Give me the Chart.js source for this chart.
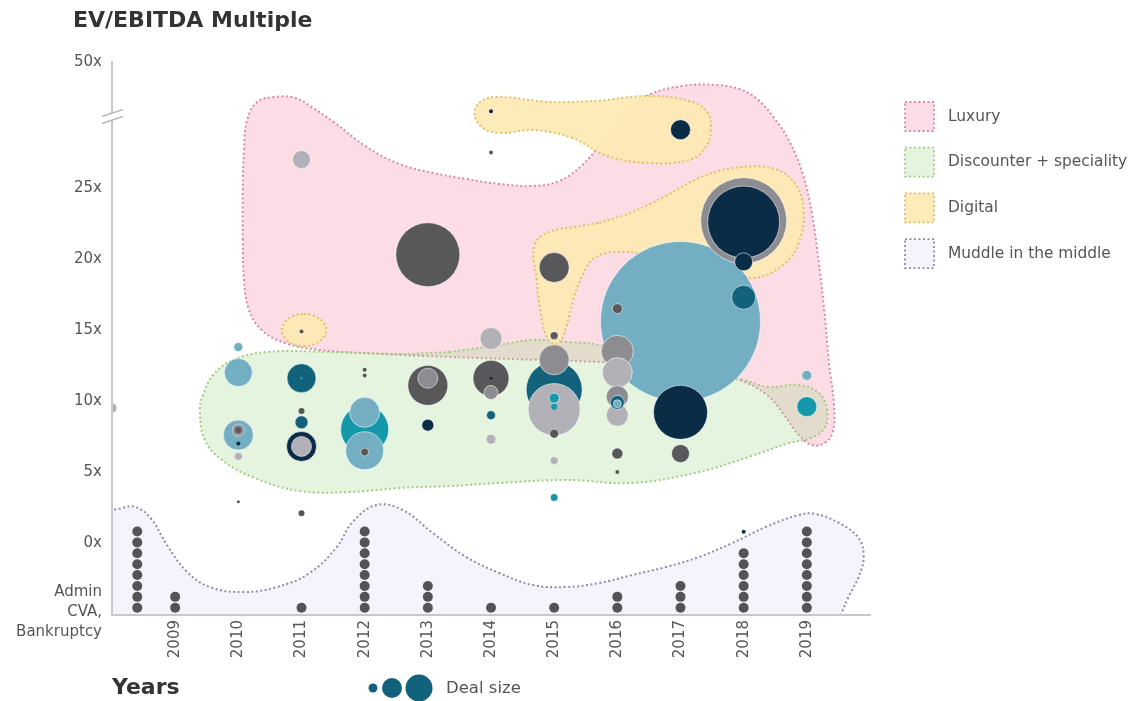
<!DOCTYPE html>
<html>
<head>
<meta charset="utf-8">
<title>EV/EBITDA Multiple</title>
<script src="https://cdn.jsdelivr.net/npm/chart.js@4.4.1/dist/chart.umd.min.js"></script>
<style>
  html, body { margin: 0; padding: 0; background: #fff; }
  #chart { display: block; }
</style>
</head>
<body>
<canvas id="chart" width="1134" height="701"></canvas>
<script>
// Deals: year, EV/EBITDA multiple, deal size (bubble radius) and colour group
const dealYears = [2008, 2010, 2010, 2010, 2010, 2010, 2010, 2010, 2010,
  2011, 2011, 2011, 2011, 2011, 2011, 2011, 2011, 2011,
  2012, 2012, 2012, 2012, 2012, 2012,
  2013, 2013, 2013, 2013,
  2014, 2014, 2014, 2014, 2014, 2014, 2014, 2014,
  2015, 2015, 2015, 2015, 2015, 2015, 2015, 2015, 2015, 2015,
  2016, 2016, 2016, 2016, 2016, 2016, 2016, 2016, 2016,
  2017, 2017, 2017, 2017,
  2018, 2018, 2018, 2018, 2018,
  2019, 2019];
const dealMultiples = [9.5, 13.8, 12.0, 7.6, 7.95, 7.95, 7.0, 6.1, 2.9,
  27.0, 14.9, 11.6, 11.6, 9.3, 8.5, 6.8, 6.8, 2.1,
  12.2, 11.8, 8.0, 9.2, 6.5, 6.4,
  20.3, 11.1, 11.6, 8.3,
  30.4, 27.5, 14.4, 11.6, 10.6, 11.6, 9.0, 7.3,
  19.4, 14.6, 12.9, 10.8, 9.4, 10.2, 9.6, 7.7, 5.8, 3.2,
  16.5, 13.5, 12.0, 10.3, 9.0, 9.9, 9.8, 6.3, 5.0,
  29.1, 15.6, 9.2, 6.3,
  22.7, 22.6, 19.8, 17.3, 0.8,
  11.8, 9.6];
const dealSizes = [5, 4.5, 14, 15, 6, 3, 2, 4, 1.5,
  9, 2, 14.5, 1.5, 3, 6.5, 15, 10, 3,
  2, 2, 24, 15, 19, 4,
  32, 20, 10, 6,
  2, 2, 11, 18, 7, 1.5, 4.5, 5,
  15, 4, 15, 28, 26, 5, 3, 4.5, 4, 3.5,
  5, 16, 15, 11, 11, 7, 4, 5.5, 2,
  10, 80, 27, 9,
  43, 36, 9, 12, 2,
  5, 10];
const dealGroups = ['light', 'blue', 'blue', 'blue', 'mid', 'dark', 'navy', 'light', 'dark',
  'light', 'dark', 'teal', 'cyan', 'dark', 'teal', 'navy', 'light', 'dark',
  'dark', 'dark', 'cyan', 'blue', 'blue', 'dark',
  'dark', 'dark', 'mid', 'navy',
  'navy', 'dark', 'light', 'dark', 'mid', 'navy', 'teal', 'light',
  'dark', 'dark', 'mid', 'teal', 'light', 'cyan', 'cyan', 'dark', 'light', 'cyan',
  'dark', 'mid', 'light', 'mid', 'light', 'teal', 'blue', 'dark', 'dark',
  'navy', 'blue', 'navy', 'dark',
  'mid', 'navy', 'navy', 'teal', 'navy',
  'blue', 'cyan'];

// Administrations, CVAs and bankruptcies per year (first column is pre-2009)
const adminYears = [2008.4, 2009, 2010, 2011, 2012, 2013, 2014, 2015, 2016, 2017, 2018, 2019];
const adminCounts = [8, 2, 0, 1, 8, 3, 1, 1, 2, 3, 6, 8];

// Axis ticks
const yearTicks = [2009, 2010, 2011, 2012, 2013, 2014, 2015, 2016, 2017, 2018, 2019];
const multipleTicks = [-4.86, 0, 5, 10, 15, 20, 25, 33.87];
const multipleLabels = [['Admin', 'CVA,', 'Bankruptcy'], '0x', '5x', '10x', '15x', '20x', '25x', '50x'];

// Segment outlines (year, multiple)
const luxuryX = [2010.07, 2010.07, 2010.09, 2010.14, 2010.30, 2010.58, 2010.90, 2011.16, 2011.53, 2012.03,
  2012.55, 2013.08, 2013.61, 2014.13, 2014.66, 2015.08, 2015.43, 2015.79, 2016.16, 2016.50,
  2017.03, 2017.56, 2017.93, 2018.21, 2018.48, 2018.73, 2018.94, 2019.08, 2019.19, 2019.28,
  2019.35, 2019.43, 2019.41, 2019.28, 2019.08, 2018.87, 2018.64, 2018.37, 2017.93, 2017.29,
  2016.50, 2015.71, 2014.77, 2013.34, 2012.24, 2011.29, 2010.74, 2010.37, 2010.17, 2010.09];
const luxuryY = [21.34, 24.86, 27.68, 29.79, 31.06, 31.41, 31.34, 30.70, 29.58, 27.89,
  26.69, 26.06, 25.63, 25.28, 25.14, 25.49, 26.55, 28.38, 30.35, 31.55,
  32.18, 32.25, 31.97, 31.27, 29.93, 28.24, 25.92, 23.24, 19.72, 16.20,
  12.68, 9.72, 7.82, 7.04, 6.90, 7.61, 9.01, 10.42, 11.48, 12.18,
  12.61, 12.75, 12.89, 13.10, 13.31, 13.59, 14.08, 15.00, 16.41, 18.52];

const discounterX = [2013.34, 2014.13, 2014.66, 2015.24, 2015.71, 2016.50, 2017.29, 2018.00, 2018.40, 2018.87,
  2019.19, 2019.32, 2019.28, 2019.06, 2018.72, 2018.08, 2017.29, 2016.24, 2015.19, 2014.13,
  2013.34, 2012.55, 2011.76, 2010.97, 2010.26, 2009.74, 2009.47, 2009.39, 2009.44, 2009.60,
  2009.92, 2010.45, 2011.50, 2012.55];
const discounterY = [13.45, 13.94, 14.30, 14.15, 13.94, 12.89, 12.18, 11.48, 10.99, 11.13,
  10.56, 9.37, 8.10, 7.39, 7.04, 6.06, 5.00, 4.23, 4.44, 4.23,
  4.01, 3.87, 3.59, 3.66, 4.58, 5.85, 7.25, 9.37, 10.42, 11.83,
  12.89, 13.45, 13.45, 13.31];

const digitalTopX = [2015.71, 2016.50, 2017.14, 2017.42, 2017.48, 2017.39, 2017.14, 2016.50, 2015.84, 2015.29,
  2014.66, 2014.13, 2013.85, 2013.74, 2013.85, 2014.13, 2014.92];
const digitalTopY = [31.13, 31.48, 31.13, 30.35, 29.08, 27.82, 26.97, 26.76, 27.25, 28.52,
  29.08, 28.87, 29.30, 30.28, 31.13, 31.41, 31.06];

const digitalSmallX = [2011.04, 2011.13, 2011.21, 2011.34, 2011.39, 2011.34, 2011.21, 2011.04, 2010.86, 2010.74,
  2010.69, 2010.74, 2010.86, 2010.95];
const digitalSmallY = [16.13, 16.09, 15.98, 15.56, 15.00, 14.44, 14.02, 13.87, 14.02, 14.44,
  15.00, 15.56, 15.98, 16.09];

const digitalMainX = [2015.71, 2016.24, 2016.77, 2017.29, 2017.85, 2018.48, 2018.83, 2018.95, 2018.87, 2018.64,
  2018.16, 2017.69, 2017.14, 2016.50, 2015.95, 2015.64, 2015.45, 2015.30, 2015.19, 2015.05,
  2014.89, 2014.78, 2014.72, 2014.69, 2014.92, 2015.32];
const digitalMainY = [22.54, 23.31, 24.44, 25.70, 26.41, 26.34, 25.21, 23.24, 21.13, 19.65,
  18.66, 19.23, 20.07, 20.35, 20.49, 20.07, 18.87, 17.11, 15.21, 14.01,
  14.44, 16.41, 18.66, 20.99, 21.90, 22.25];

const muddleX = [2014.0, 2008.5, 2007.6, 2007.6, 2008.16, 2008.37, 2008.61, 2008.87, 2009.19, 2009.55,
  2010.07, 2010.61, 2011.13, 2011.56, 2011.81, 2012.19, 2012.60, 2013.08, 2013.61, 2014.13,
  2014.66, 2015.19, 2015.71, 2016.24, 2016.77, 2017.29, 2017.82, 2018.35, 2018.87, 2019.14,
  2019.51, 2019.82, 2019.90, 2019.82, 2019.66, 2019.55, 2019.47, 2019.0];
const muddleY = [-6.3, -6.3, -6.0, 1.6, 2.46, 2.54, 1.76, -0.14, -2.04, -3.10,
  -3.45, -3.10, -2.11, -0.28, 1.48, 2.68, 2.32, 0.70, -0.99, -2.11,
  -2.96, -3.10, -2.82, -2.25, -1.69, -0.99, 0.00, 1.13, 1.97, 2.04,
  1.41, 0.35, -0.99, -2.39, -3.80, -4.93, -5.77, -6.3];

const regionNames = ['Luxury', 'Discounter + speciality', 'Digital', 'Muddle in the middle'];

// ---- styling ----
const palette = {
  dark: '#58585b',
  mid: '#8d8c91',
  light: '#b2b1b7',
  blue: '#74aec2',
  teal: '#13627b',
  cyan: '#1598aa',
  navy: '#0b2c47'
};
const regionStyle = {
  'Luxury': { fill: 'rgba(248,170,190,0.4)', line: '#d98aa2' },
  'Discounter + speciality': { fill: 'rgba(170,220,150,0.3)', line: '#a2cc84' },
  'Digital': { fill: 'rgba(253,234,180,0.93)', line: '#e3bf66' },
  'Muddle in the middle': { fill: 'rgba(243,240,250,0.8)', line: '#928aa6' }
};
const adminBase = -4.56;   // centre of the lowest dot
const adminStep = 0.767;   // one dot height in multiple units
const axisBreakAt = 30.07;

Chart.defaults.font.family = "'DejaVu Sans', Verdana, sans-serif";
Chart.defaults.color = '#555';

function closedOutline(xs, ys) {
  const pts = xs.map((x, i) => ({ x, y: ys[i] }));
  pts.push({ x: xs[0], y: ys[0] });
  return pts;
}

function regionDataset(name, xs, ys, order) {
  const st = regionStyle[name];
  return {
    type: 'scatter',
    label: name,
    data: closedOutline(xs, ys),
    showLine: true,
    fill: 'shape',
    backgroundColor: st.fill,
    borderColor: st.line,
    borderWidth: 2,
    borderDash: [2, 2.5],
    tension: 0.4,
    capBezierPoints: false,
    pointRadius: 0,
    pointHoverRadius: 0,
    order
  };
}

// bigger bubbles first so the small ones stay visible on top
const dealOrder = dealSizes.map((_, i) => i).sort((a, b) => dealSizes[b] - dealSizes[a]);
const dealPoints = dealOrder.map(i => ({ x: dealYears[i], y: dealMultiples[i], r: dealSizes[i] }));
const dealColours = dealOrder.map(i => palette[dealGroups[i]]);

const adminPoints = [];
adminYears.forEach((yr, i) => {
  for (let k = 0; k < adminCounts[i]; k++) {
    adminPoints.push({ x: yr, y: adminBase + k * adminStep, r: 5 });
  }
});

// y labels ("Bankruptcy") reach further left than the axis box
const labelRoom = {
  id: 'labelRoom',
  afterLayout(chart) { chart.scales.y.left = 0; }
};

const extras = {
  id: 'extras',
  afterDraw(chart) {
    const { ctx, scales } = chart;
    const ax = scales.x.left;
    const yb = scales.y.getPixelForValue(axisBreakAt);
    ctx.save();

    // break marks on the multiple axis
    ctx.fillStyle = '#fff';
    ctx.fillRect(ax - 2, yb - 3, 4, 7);
    ctx.strokeStyle = '#b9b9b9';
    ctx.lineWidth = 1.5;
    ctx.beginPath();
    ctx.moveTo(ax - 10, yb + 0.5); ctx.lineTo(ax + 11, yb - 6.5);
    ctx.moveTo(ax - 10, yb + 7.5); ctx.lineTo(ax + 11, yb + 0.5);
    ctx.stroke();

    // deal size key
    ctx.fillStyle = palette.teal;
    [[373, 4.5], [392, 10], [419, 13.5]].forEach(([cx, r]) => {
      ctx.beginPath(); ctx.arc(cx, 688, r, 0, Math.PI * 2); ctx.fill();
    });
    ctx.fillStyle = '#555';
    ctx.font = "16.5px 'DejaVu Sans', Verdana, sans-serif";
    ctx.textBaseline = 'middle';
    ctx.textAlign = 'left';
    ctx.fillText('Deal size', 446, 689);

    // segment legend
    ctx.font = "15.4px 'DejaVu Sans', Verdana, sans-serif";
    regionNames.forEach((name, i) => {
      const st = regionStyle[name];
      const top = 102 + i * 45.7;
      ctx.fillStyle = st.fill;
      ctx.fillRect(905, top, 29, 29);
      ctx.setLineDash([2, 2.5]);
      ctx.strokeStyle = st.line;
      ctx.lineWidth = 1.8;
      ctx.strokeRect(905, top, 29, 29);
      ctx.setLineDash([]);
      ctx.fillStyle = '#555';
      ctx.fillText(name, 948, top + 14.5);
    });
    ctx.restore();
  }
};

new Chart(document.getElementById('chart'), {
  type: 'bubble',
  data: {
    datasets: [
      {
        type: 'bubble',
        label: 'Deals',
        data: dealPoints,
        backgroundColor: dealColours,
        borderColor: 'rgba(255,255,255,0.55)',
        borderWidth: c => (c.raw && c.raw.r < 4 ? 0 : 1),
        order: 0
      },
      {
        type: 'bubble',
        label: 'Admin, CVA, Bankruptcy',
        data: adminPoints,
        backgroundColor: '#545457',
        borderWidth: 0,
        order: 1
      },
      regionDataset('Muddle in the middle', muddleX, muddleY, 2),
      regionDataset('Digital', digitalMainX, digitalMainY, 3),
      regionDataset('Digital', digitalTopX, digitalTopY, 3),
      regionDataset('Digital', digitalSmallX, digitalSmallY, 3),
      regionDataset('Discounter + speciality', discounterX, discounterY, 4),
      regionDataset('Luxury', luxuryX, luxuryY, 5)
    ]
  },
  options: {
    responsive: false,
    animation: false,
    events: [],
    layout: { autoPadding: false, padding: { left: 73, right: 264, top: 0, bottom: 0 } },
    plugins: {
      legend: { display: false },
      tooltip: { enabled: false },
      title: {
        display: true,
        text: 'EV/EBITDA Multiple',
        align: 'start',
        color: '#333',
        font: { size: 22, weight: 'bold' },
        padding: { top: 8, bottom: 27.6 }
      }
    },
    scales: {
      x: {
        type: 'linear',
        min: 2008,
        max: 2020,
        afterBuildTicks: scale => { scale.ticks = yearTicks.map(v => ({ value: v })); },
        afterFit: scale => {
          scale.height = 86;
          scale.paddingLeft = 0;
          scale.paddingRight = 0;
        },
        grid: { display: false, drawTicks: false },
        border: { color: '#c8c8c8', width: 2, z: 1 },
        ticks: {
          autoSkip: false,
          minRotation: 90,
          maxRotation: 90,
          padding: 5,
          color: '#555',
          font: { size: 15 },
          callback: v => String(v)
        },
        title: {
          display: true,
          text: 'Years',
          align: 'start',
          color: '#333',
          font: { size: 22, weight: 'bold' },
          padding: { top: 0, bottom: 0 }
        }
      },
      y: {
        type: 'linear',
        min: -5.07,
        max: 33.87,
        afterBuildTicks: scale => { scale.ticks = multipleTicks.map(v => ({ value: v })); },
        afterFit: scale => {
          scale.width = 39;
          scale.paddingTop = 0;
          scale.paddingBottom = 0;
        },
        grid: { display: false, drawTicks: false },
        border: { color: '#c8c8c8', width: 2, z: 1 },
        ticks: {
          autoSkip: false,
          padding: 10,
          color: '#555',
          font: { size: 15, lineHeight: 1.35 },
          callback: (v, i) => multipleLabels[i]
        }
      }
    }
  },
  plugins: [labelRoom, extras]
});
</script>
</body>
</html>
